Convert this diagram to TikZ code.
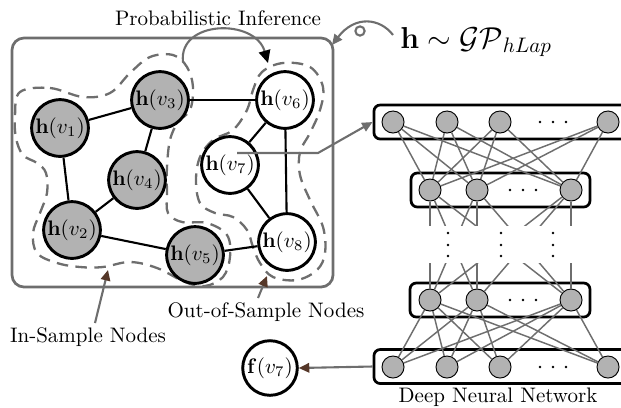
\documentclass[tikz,border=0pt]{standalone}
\usetikzlibrary{arrows.meta}
\definecolor{nodegray}{RGB}{178,178,178}
\definecolor{linegray}{RGB}{110,110,110}
\definecolor{tipbrown}{RGB}{85,55,40}
\begin{document}
\begin{tikzpicture}[x=0.47619pt,y=-0.47619pt,
  hin/.style={circle,draw=black,line width=1.4pt,fill=nodegray,minimum size=27pt,inner sep=0pt},
  hout/.style={circle,draw=black,line width=1.4pt,fill=white,minimum size=27pt,inner sep=0pt},
  gedge/.style={line width=1pt,black},
  region/.style={draw=linegray,line width=1.1pt,dash pattern=on 5.5pt off 3.5pt},
  frame/.style={draw=linegray,line width=1.3pt,rounded corners=5.7pt},
  neuron/.style={circle,draw=black,line width=0.45pt,fill=nodegray,minimum size=10.5pt,inner sep=0pt},
  layerbox/.style={draw=black,line width=1.3pt,rounded corners=3pt,minimum height=16.2pt,inner sep=0pt},
  conn/.style={draw=linegray,line width=0.7pt},
  ptr/.style={draw=linegray,line width=1pt,-{Triangle[length=5pt,width=4.5pt,color=tipbrown]}},
  gptr/.style={draw=linegray,line width=1pt,-{Triangle[length=5pt,width=4.5pt]}},
  lbl/.style={inner sep=0pt,font=\normalsize}]
\useasboundingbox (0,0) rectangle (621,407);

% ---------- graph with sampled / unsampled nodes ----------
\draw[frame] (12,38) rectangle (333,287);

\draw[region] plot[smooth cycle,tension=0.6] coordinates {
  (20,92) (50,88) (83,97) (110,93) (130,73) (150,57) (173,55) (187,67)
  (193,87) (190,110) (178,122) (170,140) (167,167) (167,193) (168,213)
  (182,222) (207,223) (227,235) (230,257) (223,277) (205,286) (185,282)
  (157,268) (130,262) (103,267) (80,267) (57,263) (37,253) (33,233)
  (40,213) (47,193) (46,173) (37,163) (23,155) (16,138) (15,115)};

\draw[region] plot[smooth cycle,tension=0.6] coordinates {
  (283,63) (310,67) (323,87) (320,110) (310,133) (300,152) (300,175)
  (310,200) (323,227) (325,253) (317,270) (297,280) (273,277) (260,263)
  (253,247) (247,230) (233,217) (215,213) (200,203) (196,180) (200,157)
  (213,140) (233,130) (247,110) (253,90) (262,72)};

\node[hin]  (v1) at (60,128) {$\mathbf{h}(v_1)$};
\node[hin]  (v3) at (160,100) {$\mathbf{h}(v_3)$};
\node[hin]  (v4) at (137,180) {$\mathbf{h}(v_4)$};
\node[hin]  (v2) at (72,230) {$\mathbf{h}(v_2)$};
\node[hin]  (v5) at (195,255) {$\mathbf{h}(v_5)$};
\node[hout] (v6) at (285,100) {$\mathbf{h}(v_6)$};
\node[hout] (v7) at (230,165) {$\mathbf{h}(v_7)$};
\node[hout] (v8) at (287,242) {$\mathbf{h}(v_8)$};

\draw[gedge] (v1) -- (v3);
\draw[gedge] (v3) -- (v4);
\draw[gedge] (v1) -- (v2);
\draw[gedge] (v4) -- (v2);
\draw[gedge] (v2) -- (v5);
\draw[gedge] (v5) -- (v8);
\draw[gedge] (v3) -- (v6);
\draw[gedge] (v6) -- (v7);
\draw[gedge] (v6) -- (v8);
\draw[gedge] (v7) -- (v8);

% ---------- inference arrow and prior ----------
\node[lbl] (pi) at (218,18) {Probabilistic Inference};
\coordinate (pia) at (183,62);
\coordinate (pib) at (268,63);
\draw[draw=linegray,line width=1pt,-{Triangle[length=6pt,width=5.5pt,color=black]}]
  (pia) .. controls (178,20) and (255,18) .. (pib);

\node[inner sep=0pt,anchor=base west,font=\Large] (gp) at (400,48) {$\mathbf{h}\sim\mathcal{GP}_{hLap}$};
\coordinate (gpa) at (393,35);
\coordinate (gpb) at (332,45);
\coordinate (gpo) at (360,31);
\draw[gptr] (gpa) .. controls (380,18) and (355,15) .. (gpb);
\draw[draw=linegray,line width=1pt] (gpo) circle (2.2pt);

% ---------- annotations ----------
\node[lbl] (ins) at (88,337) {In-Sample Nodes};
\coordinate (insa) at (95,323);
\coordinate (insb) at (108,270);
\draw[ptr] (insa) -- (insb);

\node[lbl] (outs) at (266,312) {Out-of-Sample Nodes};
\coordinate (outa) at (258,298);
\coordinate (outb) at (267,276);
\draw[ptr] (outa) -- (outb);

% ---------- deep neural network ----------
\node[layerbox,minimum width=121pt]  (boxa) at (501,122) {};
\node[layerbox,minimum width=85.2pt] (boxb) at (500.5,190) {};
\node[layerbox,minimum width=85.7pt] (boxc) at (500,300) {};
\node[layerbox,minimum width=121pt]  (boxd) at (501,366.5) {};

\foreach \n/\x in {1/393,2/447,3/500,4/608} {
  \node[neuron] (a\n) at (\x,122) {};
  \node[neuron] (d\n) at (\x,367) {};
}
\foreach \n/\x in {1/430,2/477,3/571} {
  \node[neuron] (b\n) at (\x,190) {};
  \node[neuron] (c\n) at (\x,300) {};
}

\foreach \i in {1,...,4} \foreach \j in {1,2,3} {
  \draw[conn] (a\i) -- (b\j);
  \draw[conn] (c\j) -- (d\i);
}
\begin{scope}
  \clip (380,150) rectangle (621,225);
  \foreach \i in {1,2,3} \foreach \j in {1,2,3} \draw[conn] (b\i) -- (c\j);
\end{scope}
\begin{scope}
  \clip (380,263) rectangle (621,330);
  \foreach \i in {1,2,3} \foreach \j in {1,2,3} \draw[conn] (b\i) -- (c\j);
\end{scope}

% horizontal ellipses inside the layers
\foreach \y in {122,367} \foreach \x in {540,553,566} \fill (\x,\y) circle (0.65pt);
\foreach \y in {190,300} \foreach \x in {510,523,536} \fill (\x,\y) circle (0.65pt);
% vertical ellipses between the layers
\foreach \x in {448,501,553} \foreach \y in {233,245,256} \fill (\x,\y) circle (0.65pt);

\node[lbl] (dnn) at (498,397) {Deep Neural Network};

% ---------- input and output of the network ----------
\coordinate (s7) at (237,153);
\coordinate (s7b) at (318,153);
\draw[gptr] (s7) -- (s7b) -- (boxa.west);

\node[circle,draw=black,line width=1.4pt,fill=white,minimum size=26pt,inner sep=0pt] (f7) at (270,368) {$\mathbf{f}(v_7)$};
\draw[ptr] (boxd.west) -- (f7.east);
\end{tikzpicture}
\end{document}
